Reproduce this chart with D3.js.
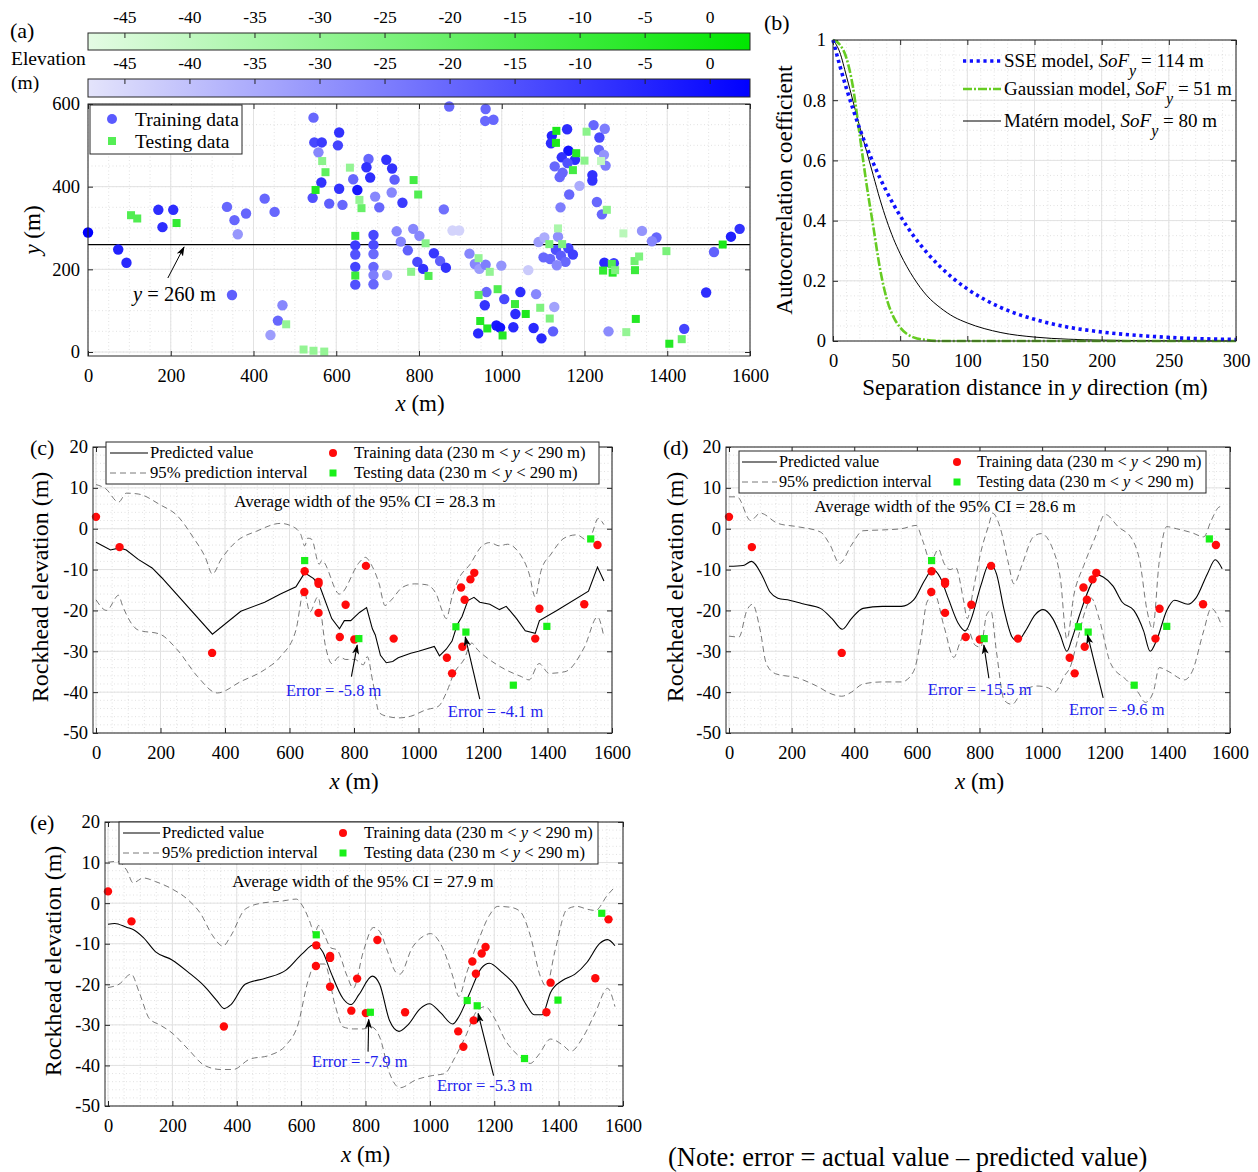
<!DOCTYPE html>
<html><head><meta charset="utf-8">
<script src="https://cdn.jsdelivr.net/npm/d3@7"></script>
<style>body{margin:0;background:#fff} svg text{font-family:"Liberation Serif","Times New Roman",serif}</style>
</head><body>
<svg id="chart" width="1258" height="1172"></svg>
<script>
// ---------------- DATA ----------------
// Panel (a): [x (m), y (m), elevation (m)]
const trainingPoints = [
[0,289,3],[73,248,-4.5],[93,216,-6],[170,344,-7],[206,344,-7],[180,302,-7],[336,351,-20],[354,319,-20],[362,285,-30.4],
[382,335,-20],[427,371,-20],[451,339,-20],[348,138,-18],[470,113,-27],[459,76,-20],[441,41,-32],[545,567,-20],[547,507,-13],
[565,507,-10],[557,483,-27],[607,531,-8],[604,500,-12],[564,410,-8],[543,373,-15],[583,359,-18],[607,395,-8],[615,356,-20],
[641,418,-20],[651,392,-2],[678,467,-20],[673,447,-8],[682,422,-7],[694,376,-27],[704,350,-20],[721,465,-8],[735,444,-8],
[741,417,-18],[734,386,-27],[760,361,-10],[746,292,-27],[786,298,-27],[756,267,-26.5],[801,281,-27.1],[773,246,-18.6],
[796,218,-13],[810,201,-8],[646,258,-10.4],[646,236,-15.5],[646,206,-12],[646,163,-15],[690,283,-13],[690,259,-13.5],
[690,237,-20.6],[690,206,-20],[690,186,-25],[690,164,-20],[723,186,-35],[873,594,-20],[961,588,-20],[960,559,-20],
[980,562,-20],[860,345,-22],[881,294,-44],[897,294,-44],[836,239,-9.1],[851,220,-18],[865,204,-8],[922,238,-26.9],
[935,213,-27],[946,201,-32],[961,211,-25],[999,209,-30],[1064,198,-42],[963,145,-20],[959,113,-8],[1006,128,-13],
[1045,145,-7],[1083,140,-27],[1127,109,-33],[1033,92,-7],[943,45,-6],[987,64,-2],[996,59,-1],[1028,60,-6],[1077,58,-6],
[1096,33,-6],[1124,50,-18],[1121,523,-5],[1119,505,-7],[1158,539,-7],[1161,487,-1],[1145,471,-8],[1177,465,-7],
[1159,457,-15],[1128,449,-20],[1147,434,-20],[1140,423,-20],[1219,415,-8],[1188,402,-35],[1163,381,-20],[1142,350,-25],
[1089,266,-31.6],[1103,277,-35.4],[1136,279,-28.9],[1131,247,-14.4],[1161,251,-12.4],[1143,233,-17.4],[1172,236,-10.8],
[1101,229,-20],[1117,225,-20],[1154,218,-20],[1133,210,-27],[1222,549,-20],[1249,540,-25],[1236,519,-13],[1235,489,-20],
[1247,477,-30],[1251,451,-25],[1219,428,-8],[1230,363,-20],[1242,333,-20],[1339,293,-30],[1374,277,-19.6],[1363,268,-26.9],
[1248,216,-6],[1271,215,-10],[1494,144,-7],[1513,242,-18.5],[1554,279,-4],[1575,298,-8],[1258,50,-28],[1441,56,-12]
];
const testingPoints = [
[104,331,-15],[119,323,-15],[214,312,-8],[479,67,-30],[521,6,-30],[545,3,-30],[571,1,-30],[566,462,-28],[574,435,-18],
[550,392,-5],[633,446,-30],[656,368,-30],[661,348,-20],[646,281,-7.8],[646,185,-10],[787,416,-12],[798,381,-15],
[816,263,-26.9],[823,184,-15],[781,194,-28],[944,227,-30],[971,194,-30],[944,138,-18],[990,152,-15],[1032,116,-10],
[1058,92,-3],[1093,107,-25],[1116,81,-25],[948,75,-5],[965,57,-5],[1002,40,-5],[1132,535,-3],[1131,506,-3],[1205,533,-28],
[1180,481,-5],[1200,463,-28],[1172,440,-12],[1240,462,-40],[1136,299,-35],[1115,261,-24],[1146,261,-25.3],[1254,344,-28],
[1294,287,-38.3],[1398,244,-23.9],[1266,213,-15],[1245,197,-8],[1268,192,-5],[1274,198,-25],[1321,220,-22],[1332,231,-25],
[1322,198,-10],[1534,260,-2.5],[1324,80,-5],[1301,48,-30],[1435,31,-20],[1405,20,-5]
];
const colorbarTicks = [-45,-40,-35,-30,-25,-20,-15,-10,-5,0];
const elevRange = [-47.8, 3.1];

// Panel (b)
const lagB = [0,5,10,15,20,25,30,35,40,45,50,60,70,80,90,100,125,150,175,200,250,300];
const sseRho = [1,0.916,0.839,0.769,0.704,0.645,0.591,0.541,0.496,0.454,0.416,0.349,0.293,0.246,0.206,0.173,0.111,0.072,0.046,0.030,0.012,0.005];
const gaussRho = [1,0.985,0.94,0.84,0.68,0.52,0.38,0.24,0.14,0.08,0.045,0.012,0.003,0,0,0,0,0,0,0,0,0];
const maternRho = [1,0.96,0.88,0.795,0.71,0.63,0.55,0.47,0.40,0.34,0.29,0.21,0.15,0.11,0.08,0.06,0.028,0.013,0.006,0.003,0.0005,0];

// Panels (c)-(e): rockhead data along 230 m < y < 290 m
const rockTrain = [[0,2.9],[73,-4.5],[360,-30.4],[647,-10.4],[646,-15.5],[690,-13.0],[690,-13.5],[690,-20.6],[756,-26.5],
[774,-18.6],[801,-27.1],[837,-9.1],[923,-26.9],[1088,-31.6],[1104,-35.4],[1132,-14.4],[1136,-28.9],[1143,-17.4],
[1161,-12.4],[1173,-10.8],[1362,-26.9],[1375,-19.6],[1514,-18.5],[1555,-4.0]];
const rockTest = [[647,-7.8],[815,-26.9],[1116,-24.0],[1147,-25.3],[1294,-38.3],[1398,-23.9],[1534,-2.5]];

const predC = [[0,-3.3],[45,-5.2],[73,-4.7],[94,-5.2],[131,-7.5],[174,-9.6],[204,-12],[361,-25.8],[449,-20.2],[523,-18],[572,-16],[620,-14.2],[647,-10.8],[675,-12.2],[696,-14.5],[731,-22],[755,-24.5],[770,-22.5],[790,-22.5],[817,-20.5],[839,-19.3],[857,-24.5],[866,-26],[882,-31],[900,-32.8],[920,-32.5],[937,-31.6],[976,-30.5],[1000,-30],[1049,-28.8],[1065,-31.1],[1086,-29.5],[1104,-27.5],[1120,-23.5],[1135,-21.5],[1153,-17.6],[1172,-16.8],[1190,-18],[1221,-18.5],[1251,-19.8],[1272,-19],[1304,-22],[1331,-25],[1362,-25.6],[1375,-22.5],[1429,-20],[1527,-15.3],[1555,-9.4],[1575,-12.8]];
const upC = [[0,10.8],[30,9.8],[70,6.5],[94,8.7],[131,8.5],[198,5.9],[253,3.1],[302,-2.2],[339,-7],[361,-11.1],[388,-7.5],[437,-3],[498,-0.6],[572,1.3],[608,0.6],[635,-1.4],[647,-4.2],[657,-2.3],[669,-2.6],[692,-8.7],[700,-7.8],[755,-16],[817,-8.2],[835,-7],[853,-8.7],[878,-13.5],[896,-18.8],[915,-17.5],[951,-14.3],[988,-13.5],[1024,-13.7],[1055,-16],[1073,-20],[1086,-22],[1104,-16.7],[1122,-12.7],[1160,-8.7],[1197,-4.2],[1221,-3.4],[1251,-4.2],[1276,-3.8],[1307,-5.4],[1343,-11],[1362,-16.7],[1380,-10.3],[1411,-6.2],[1454,-2.2],[1490,-1.5],[1527,-3],[1539,-1],[1557,2.5],[1575,1]];
const loC = [[0,-17.4],[33,-20],[70,-16.3],[82,-18.8],[131,-24.8],[198,-25.8],[253,-29.7],[315,-36.2],[376,-40.2],[449,-37.4],[523,-34.5],[572,-31.3],[620,-24.8],[645,-15.1],[663,-20.4],[688,-16.7],[712,-28.9],[731,-33],[755,-31.3],[774,-32],[802,-32],[829,-33.3],[841,-31.3],[859,-37.8],[878,-45],[902,-45.9],[939,-46.3],[976,-45.9],[1024,-44.3],[1061,-43.5],[1086,-40.2],[1110,-35.4],[1141,-32],[1165,-28],[1184,-29.7],[1221,-32.1],[1270,-34.5],[1319,-36.2],[1343,-37],[1374,-33],[1405,-35.4],[1454,-35],[1515,-28.9],[1555,-21.6],[1575,-26.5]];

const predD = [[0,-9.2],[45,-9],[72,-8],[106,-11.5],[131,-15.5],[156,-17],[193,-17.5],[242,-18.5],[292,-19.5],[329,-22],[362,-24.6],[391,-22],[428,-19.5],[490,-19],[551,-19],[589,-17.5],[626,-12.5],[650,-10],[675,-12],[700,-17],[731,-23],[755,-25],[774,-22],[804,-14],[832,-8.5],[854,-11],[879,-20],[904,-26.5],[922,-27.5],[947,-25],[978,-21],[1003,-19.8],[1034,-22],[1058,-26],[1079,-30],[1095,-27],[1120,-21],[1157,-13.5],[1176,-11.3],[1195,-11.8],[1226,-14],[1256,-18],[1293,-20],[1324,-25],[1345,-30],[1367,-27],[1398,-20],[1423,-17.5],[1466,-18.5],[1491,-17],[1528,-11],[1553,-7.6],[1575,-9.8]];
const upD = [[0,7.8],[26,7.8],[69,2],[100,3.8],[156,1.3],[218,0.5],[292,-0.8],[323,-4],[353,-8.5],[391,-4],[428,-0.5],[490,-0.3],[551,0],[598,0.8],[619,-3],[644,-8],[669,-5],[687,-8.5],[706,-10],[724,-9.5],[749,-17.5],[761,-22],[780,-15],[805,-5.5],[830,1],[842,3.8],[867,0],[891,-8],[910,-13.5],[935,-9],[972,-2],[997,-1.2],[1034,-5],[1058,-12],[1079,-27],[1102,-16],[1133,-9],[1170,-2],[1201,3.5],[1244,0.4],[1287,-2.5],[1312,-8],[1335,-20],[1353,-24.5],[1374,-8],[1398,0.5],[1429,0],[1479,-1],[1516,-2],[1540,2],[1565,5.3],[1575,5.5]];
const loD = [[0,-26.3],[32,-26.5],[57,-20],[75,-18.5],[100,-25],[119,-33],[149,-35.5],[218,-36.5],[280,-38.5],[329,-40.5],[360,-41],[391,-40],[428,-38],[490,-37.5],[551,-37.5],[589,-35],[613,-27],[632,-18],[656,-16],[687,-24],[718,-31.5],[737,-28],[761,-24.5],[786,-28.5],[804,-29],[823,-21],[836,-20],[854,-30],[879,-42],[904,-43],[935,-40],[984,-38.5],[1021,-39],[1040,-40],[1071,-36],[1089,-34],[1114,-27],[1138,-20],[1157,-17],[1182,-22],[1219,-33],[1269,-37],[1306,-40],[1330,-42.5],[1355,-40],[1374,-34],[1405,-35],[1454,-37],[1479,-35],[1516,-25],[1540,-19.5],[1575,-24]];

const predE = [[0,-5.2],[21,-5],[59,-6],[78,-6.5],[110,-8.5],[148,-12],[199,-14],[249,-17],[300,-20.5],[338,-24],[361,-26],[382,-25],[426,-20],[489,-18.5],[553,-16.5],[603,-12.5],[641,-10.2],[667,-12],[692,-17],[730,-23.5],[755,-25],[780,-22.5],[821,-18],[844,-20],[875,-29],[904,-31.6],[932,-30],[970,-26],[999,-24.8],[1033,-27],[1071,-29.8],[1090,-28],[1122,-22.5],[1160,-16],[1185,-14.8],[1223,-17],[1267,-20.5],[1299,-25],[1324,-27.5],[1349,-27.5],[1375,-22],[1413,-19],[1451,-17.5],[1489,-14.5],[1527,-10],[1552,-9],[1575,-10.5]];
const upE = [[0,10.1],[28,10.3],[59,8],[78,5],[110,6.2],[148,5.3],[199,3.5],[249,0.8],[287,-2.5],[325,-8],[357,-10.6],[382,-8],[426,-1.5],[477,0],[540,0.5],[585,1],[603,-0.5],[629,-5],[641,-7.8],[654,-5.5],[673,-8],[692,-11],[711,-11.5],[743,-18],[762,-21],[793,-12],[825,-6],[844,-7],[869,-12],[894,-17],[907,-17.5],[945,-11],[983,-8],[1002,-7.5],[1033,-10],[1071,-18],[1090,-23],[1115,-17],[1147,-10],[1185,-3],[1211,-0.8],[1249,-1],[1280,-2],[1312,-8],[1343,-18],[1362,-20.5],[1388,-12],[1426,-1.5],[1457,-0.8],[1489,-1.5],[1514,-1.8],[1552,2],[1575,4]];
const loE = [[0,-20.8],[34,-20],[72,-17.5],[97,-22],[129,-28.5],[161,-30],[199,-32],[249,-36],[300,-40],[351,-41],[389,-41],[439,-38.5],[502,-37.5],[553,-35],[590,-30],[622,-19],[644,-15],[673,-15],[705,-25],[730,-30.5],[762,-31],[793,-31],[818,-30.5],[844,-33],[875,-42],[907,-45.5],[958,-43.5],[1008,-42.5],[1046,-42],[1078,-38],[1110,-33],[1147,-26.5],[1173,-25.5],[1198,-28],[1236,-34],[1274,-37.5],[1312,-39.5],[1337,-37.5],[1375,-33.5],[1413,-35],[1438,-36.5],[1476,-33],[1514,-27],[1552,-21],[1575,-25.5]];

const ciWidths = {c:"28.3", d:"28.6", e:"27.9"};
// annotations: [text x, text y, label, tail x, tail y, head x, head y]
const errC = [[589,-40.9,"Error = -5.8 m",792,-36.2,810,-28.5],[1091,-46.1,"Error = -4.1 m",1190,-41.7,1145,-26.5]];
const errD = [[635,-40.7,"Error = -15.5 m",830,-36.6,814,-28.5],[1086,-45.6,"Error = -9.6 m",1195,-41.4,1145,-26]];
const errE = [[634,-40.4,"Error = -7.9 m",808,-36.6,810,-28.7],[1022,-46.3,"Error = -5.3 m",1198,-42.5,1150,-27.2]];

// ---------------- DRAWING ----------------
const FONT = '"Liberation Serif","Times New Roman",serif';
const svg = d3.select("#chart");
const defs = svg.append("defs");
defs.append("marker").attr("id","arrow").attr("viewBox","0 0 10 10").attr("refX",9).attr("refY",5)
  .attr("markerWidth",10).attr("markerHeight",10).attr("markerUnits","userSpaceOnUse").attr("orient","auto")
  .append("path").attr("d","M0,1.5 L10,5 L0,8.5 L2.5,5 Z").attr("fill","#000");

function frame(g, xs, ys, o) {
  const [x0,x1,y0,y1] = o.box;
  g.append("g").selectAll("line").data(o.xMinor).join("line")
    .attr("x1",d=>xs(d)).attr("x2",d=>xs(d)).attr("y1",y0).attr("y2",y1)
    .attr("stroke","#cfcfcf").attr("stroke-width",0.6).attr("stroke-dasharray","1,2.5");
  g.append("g").selectAll("line").data(o.yMinor).join("line")
    .attr("y1",d=>ys(d)).attr("y2",d=>ys(d)).attr("x1",x0).attr("x2",x1)
    .attr("stroke","#cfcfcf").attr("stroke-width",0.6).attr("stroke-dasharray","1,2.5");
  g.append("g").selectAll("line").data(o.xTicks).join("line")
    .attr("x1",d=>xs(d)).attr("x2",d=>xs(d)).attr("y1",y0).attr("y2",y1)
    .attr("stroke","#e2e2e2").attr("stroke-width",1);
  g.append("g").selectAll("line").data(o.yTicks).join("line")
    .attr("y1",d=>ys(d)).attr("y2",d=>ys(d)).attr("x1",x0).attr("x2",x1)
    .attr("stroke","#e2e2e2").attr("stroke-width",1);
  const style = s => { s.select(".domain").remove();
    s.selectAll("text").attr("font-family",FONT).attr("font-size",o.fs).attr("fill","#000");
    s.selectAll("line").attr("stroke","#262626"); };
  const fmt = d => String(d);
  g.append("g").attr("transform",`translate(0,${y1})`)
    .call(d3.axisBottom(xs).tickValues(o.xTicks).tickFormat(fmt).tickSizeInner(-5).tickSizeOuter(0).tickPadding(o.xPad)).call(style);
  g.append("g").attr("transform",`translate(0,${y0})`)
    .call(d3.axisTop(xs).tickValues(o.xTicks).tickFormat("").tickSizeInner(-5).tickSizeOuter(0)).call(style);
  g.append("g").attr("transform",`translate(${x0},0)`)
    .call(d3.axisLeft(ys).tickValues(o.yTicks).tickFormat(fmt).tickSizeInner(-5).tickSizeOuter(0).tickPadding(o.yPad)).call(style);
  g.append("g").attr("transform",`translate(${x1},0)`)
    .call(d3.axisRight(ys).tickValues(o.yTicks).tickFormat("").tickSizeInner(-5).tickSizeOuter(0)).call(style);
}
function boxRect(g, box) {
  g.append("rect").attr("x",box[0]).attr("y",box[2]).attr("width",box[1]-box[0]).attr("height",box[3]-box[2])
    .attr("fill","none").attr("stroke","#262626").attr("stroke-width",1);
}
function txt(g, x, y, s, size, anchor) {
  return g.append("text").attr("x",x).attr("y",y).attr("font-size",size).attr("text-anchor",anchor||"start").attr("fill","#000").text(s);
}
function italicLabel(g, x, y, it, rest, size, rotate) {
  const t = g.append("text").attr("font-size",size).attr("text-anchor","middle").attr("fill","#000");
  if (rotate) t.attr("transform",`translate(${x},${y}) rotate(-90)`); else t.attr("x",x).attr("y",y);
  t.append("tspan").attr("font-style","italic").text(it);
  t.append("tspan").text(rest);
  return t;
}
const range = (a,b,s) => d3.range(a,b+s/2,s);

// ================= Panel (a) =================
{
  const g = svg.append("g");
  const blueC = d3.scaleLinear().domain(elevRange).range(["#e4e4fb","#0000ff"]);
  const greenC = d3.scaleLinear().domain(elevRange).range(["#e4fbe4","#00e600"]);
  const cbx = d3.scaleLinear().domain(elevRange).range([88,750]);
  [["gGreen",greenC,33,50],["gBlue",blueC,79,97]].forEach(([id,cs,top,bot])=>{
    const lg = defs.append("linearGradient").attr("id",id);
    d3.range(0,1.0001,0.1).forEach(f=>{
      lg.append("stop").attr("offset",f).attr("stop-color",cs(elevRange[0]+f*(elevRange[1]-elevRange[0])));
    });
    g.append("rect").attr("x",cbx.range()[0]).attr("y",top).attr("width",cbx.range()[1]-cbx.range()[0]).attr("height",bot-top)
      .attr("fill",`url(#${id})`).attr("stroke","#262626").attr("stroke-width",1);
    g.append("g").attr("transform",`translate(0,${top})`)
      .call(d3.axisTop(cbx).tickValues(colorbarTicks).tickFormat(d=>String(d)).tickSizeInner(-5).tickSizeOuter(0).tickPadding(10))
      .call(s=>{ s.select(".domain").remove(); s.selectAll("text").attr("font-family",FONT).attr("font-size",17.5).attr("fill","#000");
        s.selectAll("line").attr("stroke","#262626"); });
  });
  txt(g,10,38,"(a)",22);
  txt(g,11,65,"Elevation",19.5);
  txt(g,11,89,"(m)",19.5);

  const xs = d3.scaleLinear().domain([0,1600]).range([88,750]);
  const ys = d3.scaleLinear().domain([0,600]).range([352,104]);
  const box = [88,750,104,356];
  frame(g, xs, ys, {box, xTicks:range(0,1600,200), yTicks:[0,200,400,600], xMinor:range(0,1600,50), yMinor:range(0,600,50), fs:18.5, xPad:13, yPad:8});
  g.append("line").attr("x1",box[0]).attr("x2",box[1]).attr("y1",ys(260)).attr("y2",ys(260)).attr("stroke","#000").attr("stroke-width",1.2);
  g.append("g").selectAll("circle").data(trainingPoints).join("circle")
    .attr("cx",d=>xs(d[0])).attr("cy",d=>ys(d[1])).attr("r",5.2).attr("fill",d=>blueC(d[2]));
  g.append("g").selectAll("rect").data(testingPoints).join("rect")
    .attr("x",d=>xs(d[0])-4).attr("y",d=>ys(d[1])-4).attr("width",8).attr("height",8).attr("fill",d=>greenC(d[2]));
  boxRect(g, box);
  g.append("line").attr("x1",xs(193)).attr("y1",ys(179)).attr("x2",xs(232)).attr("y2",ys(254))
    .attr("stroke","#000").attr("stroke-width",1).attr("marker-end","url(#arrow)");
  const t = g.append("text").attr("x",xs(109)).attr("y",ys(123)).attr("font-size",20.5).attr("fill","#000");
  t.append("tspan").attr("font-style","italic").text("y");
  t.append("tspan").text(" = 260 m");
  g.append("rect").attr("x",90).attr("y",105).attr("width",152).attr("height",49).attr("fill","#fff").attr("stroke","#262626").attr("stroke-width",1);
  g.append("circle").attr("cx",112).attr("cy",119).attr("r",5).attr("fill","#5a5aff");
  g.append("rect").attr("x",108).attr("y",137).attr("width",8).attr("height",8).attr("fill","#55ee55");
  txt(g,135,126,"Training data",19.5);
  txt(g,135,148,"Testing data",19.5);
  italicLabel(g,420,411,"x"," (m)",23,false);
  italicLabel(g,40,230,"y"," (m)",23,true);
}

// ================= Panel (b) =================
{
  const g = svg.append("g");
  const xs = d3.scaleLinear().domain([0,300]).range([833,1236]);
  const ys = d3.scaleLinear().domain([0,1]).range([341,40]);
  const box = [833,1236,40,341];
  frame(g, xs, ys, {box, xTicks:range(0,300,50), yTicks:range(0,1,0.2).map(v=>+v.toFixed(1)), xMinor:range(0,300,10), yMinor:range(0,1,0.05), fs:18.5, xPad:13, yPad:7});
  const line = (arr) => d3.line().x((d,i)=>xs(lagB[i])).y(d=>ys(d)).curve(d3.curveMonotoneX)(arr);
  g.append("path").attr("d",line(maternRho)).attr("fill","none").attr("stroke","#000").attr("stroke-width",1);
  g.append("path").attr("d",line(gaussRho)).attr("fill","none").attr("stroke","#66cc22").attr("stroke-width",2.6).attr("stroke-dasharray","9,2,2,2");
  g.append("path").attr("d",line(sseRho)).attr("fill","none").attr("stroke","#1010ff").attr("stroke-width",3.6).attr("stroke-dasharray","3.2,3.6");
  boxRect(g, box);
  txt(g,764,30,"(b)",22);
  const legend = [["#1010ff",3.6,"3.2,3.6","SSE model, ","114"],["#66cc22",2.6,"9,2,2,2","Gaussian model, ","51"],["#000",1,null,"Matérn model, ","80"]];
  const ly = [61,89,121];
  legend.forEach((L,i)=>{
    const l = g.append("line").attr("x1",963).attr("x2",1001).attr("y1",ly[i]).attr("y2",ly[i]).attr("stroke",L[0]).attr("stroke-width",L[1]);
    if (L[2]) l.attr("stroke-dasharray",L[2]);
    const t = g.append("text").attr("x",1004).attr("y",ly[i]+6).attr("font-size",19).attr("fill","#000");
    t.append("tspan").text(L[3]);
    t.append("tspan").attr("font-style","italic").text("SoF");
    t.append("tspan").attr("font-style","italic").attr("font-size",16).attr("dy",9).text("y");
    t.append("tspan").attr("dy",-9).text(" = " + L[4] + " m");
  });
  const xl = g.append("text").attr("x",1035).attr("y",395).attr("font-size",23).attr("text-anchor","middle").attr("fill","#000");
  xl.append("tspan").text("Separation distance in ");
  xl.append("tspan").attr("font-style","italic").text("y");
  xl.append("tspan").text(" direction (m)");
  g.append("text").attr("transform","translate(792,190) rotate(-90)").attr("font-size",23).attr("text-anchor","middle").attr("fill","#000").text("Autocorrelation coefficient");
}

// ================= Panels (c), (d), (e) =================
function rockPanel(P) {
  const g = svg.append("g");
  const xs = d3.scaleLinear().domain([0,1600]).range([P.x0, P.x1]);
  const ys = d3.scaleLinear().domain([-50,20]).range([P.yb, P.yt]);
  const box = [P.bl, P.x1, P.yt, P.yb];
  frame(g, xs, ys, {box, xTicks:range(0,1600,200), yTicks:range(-50,20,10), xMinor:range(0,1600,50), yMinor:range(-50,20,2), fs:18.5, xPad:13, yPad:5});
  const curve = P.linear ? d3.curveLinear : d3.curveMonotoneX;
  const ln = d3.line().x(d=>xs(d[0])).y(d=>ys(d[1]));
  const lnS = d3.line().x(d=>xs(d[0])).y(d=>ys(d[1])).curve(d3.curveMonotoneX);
  [P.up, P.lo].forEach(a=>g.append("path").attr("d",lnS(a)).attr("fill","none").attr("stroke","#555").attr("stroke-width",0.8).attr("stroke-dasharray","6,4"));
  g.append("path").attr("d",ln.curve(curve)(P.pred)).attr("fill","none").attr("stroke","#000").attr("stroke-width",1.1);
  g.append("g").selectAll("circle").data(rockTrain).join("circle")
    .attr("cx",d=>xs(d[0])).attr("cy",d=>ys(d[1])).attr("r",4.2).attr("fill","#ff0a0a");
  g.append("g").selectAll("rect").data(rockTest).join("rect")
    .attr("x",d=>xs(d[0])-3.6).attr("y",d=>ys(d[1])-3.6).attr("width",7.2).attr("height",7.2).attr("fill","#19f019");
  boxRect(g, box);
  P.err.forEach(e=>{
    g.append("line").attr("x1",xs(e[3])).attr("y1",ys(e[4])).attr("x2",xs(e[5])).attr("y2",ys(e[6]))
      .attr("stroke","#000").attr("stroke-width",1.1).attr("marker-end","url(#arrow)");
    g.append("text").attr("x",xs(e[0])).attr("y",ys(e[1])).attr("font-size",16.5).attr("fill","#2222ee").text(e[2]);
  });
  g.append("text").attr("x",xs(P.avgPos[0])).attr("y",ys(P.avgPos[1])).attr("font-size",16.8).attr("text-anchor","middle").attr("fill","#000")
    .text(`Average width of the 95% CI = ${P.ci} m`);
  const L = P.leg;
  g.append("rect").attr("x",L.x0).attr("y",L.y0).attr("width",L.x1-L.x0).attr("height",L.y1-L.y0).attr("fill","#fff").attr("stroke","#262626").attr("stroke-width",1);
  g.append("line").attr("x1",L.lx0).attr("x2",L.lx1).attr("y1",L.r1).attr("y2",L.r1).attr("stroke","#000").attr("stroke-width",1.1);
  g.append("line").attr("x1",L.lx0).attr("x2",L.lx1).attr("y1",L.r2).attr("y2",L.r2).attr("stroke","#555").attr("stroke-width",0.8).attr("stroke-dasharray","6,4");
  txt(g,L.lx1+2,L.r1+5,"Predicted value",L.fs);
  txt(g,L.lx1+2,L.r2+5,"95% prediction interval",L.fs);
  g.append("circle").attr("cx",L.mx).attr("cy",L.r1).attr("r",4).attr("fill","#ff0a0a");
  g.append("rect").attr("x",L.mx-3.5).attr("y",L.r2-3.5).attr("width",7).attr("height",7).attr("fill","#19f019");
  [["Training data (230 m < ",L.r1],["Testing data (230 m < ",L.r2]].forEach(([s,r])=>{
    const t = g.append("text").attr("x",L.tx).attr("y",r+5).attr("font-size",L.fs).attr("fill","#000");
    t.append("tspan").text(s);
    t.append("tspan").attr("font-style","italic").text("y");
    t.append("tspan").text(" < 290 m)");
  });
  txt(g,P.labX,P.yt+8,P.label,22);
  italicLabel(g,(P.x0+P.x1)/2,P.yb+56,"x"," (m)",23,false);
  g.append("text").attr("transform",`translate(${P.ylabX},${(P.yt+P.yb)/2 - 3}) rotate(-90)`).attr("font-size",24)
    .attr("text-anchor","middle").attr("fill","#000").text("Rockhead elevation (m)");
}

rockPanel({label:"(c)", labX:30, x0:96, x1:612, bl:93, yt:447, yb:733, ylabX:48, linear:true,
  pred:predC, up:upC, lo:loC, err:errC, ci:ciWidths.c, avgPos:[834,5.3],
  leg:{x0:106,x1:599,y0:442,y1:484,lx0:110,lx1:148,r1:453,r2:473,mx:333,tx:354,fs:16.7}});
rockPanel({label:"(d)", labX:663, x0:729, x1:1230, bl:726, yt:447, yb:733, ylabX:683, linear:false,
  pred:predD, up:upD, lo:loD, err:errD, ci:ciWidths.d, avgPos:[690,4.1],
  leg:{x0:739,x1:1206,y0:451,y1:493,lx0:742,lx1:777,r1:462,r2:482,mx:957,tx:977,fs:16.2}});
rockPanel({label:"(e)", labX:30, x0:108, x1:623, bl:105, yt:822, yb:1106, ylabX:61, linear:false,
  pred:predE, up:upE, lo:loE, err:errE, ci:ciWidths.e, avgPos:[792,4.0],
  leg:{x0:119,x1:598,y0:822,y1:864,lx0:123,lx1:160,r1:833,r2:853,mx:343,tx:364,fs:16.5}});

txt(svg,668,1166,"(Note: error = actual value – predicted value)",26.5);
</script>
</body></html>
